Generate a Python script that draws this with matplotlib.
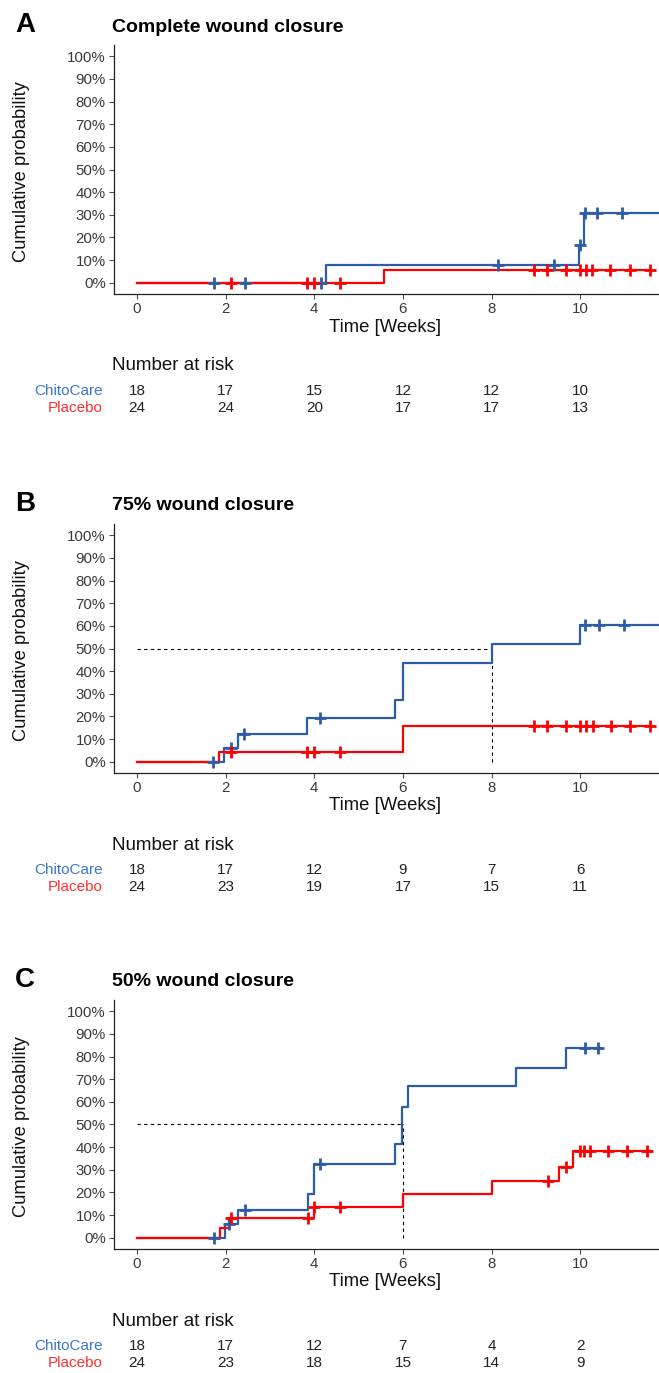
import numpy as np
import matplotlib
matplotlib.use("Agg")
import matplotlib.pyplot as plt
from matplotlib.transforms import blended_transform_factory

plt.rcParams['font.family'] = ['Liberation Sans', 'DejaVu Sans']

# ---- data ----
panel_letters = ['A', 'B', 'C']
panel_titles = ['Complete wound closure', '75% wound closure', '50% wound closure']
risk_times = [0, 2, 4, 6, 8, 10]

# ChitoCare step curves (event times, cumulative probability after the step)
chito_times = [
    [0, 4.27, 9.97, 10.08],
    [0, 1.97, 2.27, 3.84, 5.83, 6.0, 8.0, 10.0],
    [0, 1.99, 2.27, 3.85, 4.0, 5.82, 5.99, 6.11, 8.55, 9.68],
]
chito_levels = [
    [0, 0.077, 0.167, 0.308],
    [0, 0.059, 0.121, 0.193, 0.274, 0.434, 0.519, 0.603],
    [0, 0.06, 0.124, 0.195, 0.326, 0.414, 0.578, 0.668, 0.748, 0.836],
]
chito_end = [11.75, 11.75, 10.44]
chito_censor = [
    [1.73, 2.43, 4.15, 8.14, 9.41, 10.0, 10.12, 10.38, 10.94],
    [1.71, 2.13, 2.41, 4.13, 10.12, 10.42, 10.99],
    [1.73, 2.08, 2.43, 4.13, 10.1, 10.41],
]

# Placebo step curves
placebo_times = [
    [0, 5.57],
    [0, 1.84, 6.0],
    [0, 1.87, 2.08, 4.0, 6.0, 8.0, 9.52, 9.84],
]
placebo_levels = [
    [0, 0.056],
    [0, 0.044, 0.156],
    [0, 0.044, 0.085, 0.136, 0.195, 0.25, 0.312, 0.382],
]
placebo_end = [11.6, 11.6, 11.6]
placebo_censor = [
    [2.13, 3.84, 3.99, 4.58, 8.96, 9.26, 9.68, 10.0, 10.14, 10.27, 10.68, 11.12, 11.57],
    [2.13, 3.84, 3.99, 4.57, 8.96, 9.26, 9.68, 10.0, 10.14, 10.28, 10.69, 11.12, 11.58],
    [2.12, 3.85, 4.0, 4.57, 9.27, 9.68, 10.0, 10.08, 10.22, 10.64, 11.06, 11.51],
]

# median lines (None = no median reached)
median_time = [None, 8.0, 6.0]

chito_risk = [
    [18, 17, 15, 12, 12, 10],
    [18, 17, 12, 9, 7, 6],
    [18, 17, 12, 7, 4, 2],
]
placebo_risk = [
    [24, 24, 20, 17, 17, 13],
    [24, 23, 19, 17, 15, 11],
    [24, 23, 18, 15, 14, 9],
]

# ---- styling ----
W, H = 659, 1373
blue = '#2C5DA6'
red = '#FF0000'
blue_lab = '#3A78C2'
red_lab = '#FF3030'
tick_col = '#4D4D4D'

fig = plt.figure(figsize=(W / 100, H / 100), dpi=100)


def fx(px):
    return px / W


def fy(py):
    return 1 - py / H


def step_level(times, levels, t):
    i = np.searchsorted(times, t, side='right') - 1
    return np.asarray(levels)[i]


def draw_curve(ax, times, levels, end, censor, color, z):
    xs = list(times) + [end]
    ys = list(levels) + [levels[-1]]
    ax.step(xs, ys, where='post', color=color, lw=1.6, zorder=z)
    cy = [step_level(times, levels, t) for t in censor]
    ax.plot(censor, cy, ls='none', marker='+', ms=8, mew=2.0, color=color, zorder=z + 2)


offsets = [0, 479, 955]

for k in range(3):
    off = offsets[k]
    top, bot = 45 + off, 294 + off
    left, right = 114, 659
    ax = fig.add_axes([fx(left), fy(bot), fx(right - left), (bot - top) / H])

    draw_curve(ax, chito_times[k], chito_levels[k], chito_end[k], chito_censor[k], blue, 3)
    draw_curve(ax, placebo_times[k], placebo_levels[k], placebo_end[k], placebo_censor[k], red, 4)

    if median_time[k] is not None:
        m = median_time[k]
        ax.plot([0, m], [0.5, 0.5], ls=(0, (3, 3)), color='black', lw=0.8, zorder=2)
        ax.plot([m, m], [0, 0.5], ls=(0, (3, 3)), color='black', lw=0.8, zorder=2)

    ax.set_xlim(-0.52, 11.78)
    ax.set_ylim(-0.05, 1.05)
    ax.set_xticks(risk_times)
    ax.set_yticks(np.arange(0, 1.01, 0.1))
    ax.set_yticklabels([f'{int(round(v * 100))}%' for v in np.arange(0, 1.01, 0.1)])
    for s in ['top', 'right']:
        ax.spines[s].set_visible(False)
    for s in ['left', 'bottom']:
        ax.spines[s].set_linewidth(0.9)
        ax.spines[s].set_color('#222222')
    ax.tick_params(axis='both', labelsize=10.8, colors=tick_col, length=3.5, width=0.8, pad=2.5)
    ax.tick_params(axis='both', labelcolor='#3A3A3A')

    # titles
    fig.text(fx(15), fy(25 + off), panel_letters[k], fontsize=20, fontweight='bold', va='center', ha='left')
    fig.text(fx(112), fy(27 + off), panel_titles[k], fontsize=14, fontweight='bold', va='center', ha='left')
    fig.text(fx(22), fy((top + bot) / 2 + 2), 'Cumulative probability', fontsize=13.2, rotation=90,
             va='center', ha='center', color='#111111')
    fig.text(fx((left + 657) / 2), fy(327 + off), 'Time [Weeks]', fontsize=13.3, va='center', ha='center',
             color='#111111')

    # number at risk table
    fig.text(fx(112), fy(366 + off), 'Number at risk', fontsize=13.5, va='center', ha='left', color='#111111')
    fig.text(fx(103), fy(391 + off), 'ChitoCare', fontsize=11, va='center', ha='right', color=blue_lab)
    fig.text(fx(103), fy(408 + off), 'Placebo', fontsize=11, va='center', ha='right', color=red_lab)
    tr = blended_transform_factory(ax.transData, fig.transFigure)
    for t, a, b in zip(risk_times, chito_risk[k], placebo_risk[k]):
        ax.text(t, fy(391 + off), str(a), transform=tr, fontsize=11, va='center', ha='center',
                color='#222222', clip_on=False)
        ax.text(t, fy(408 + off), str(b), transform=tr, fontsize=11, va='center', ha='center',
                color='#222222', clip_on=False)

fig.savefig('out.png', dpi=100)
